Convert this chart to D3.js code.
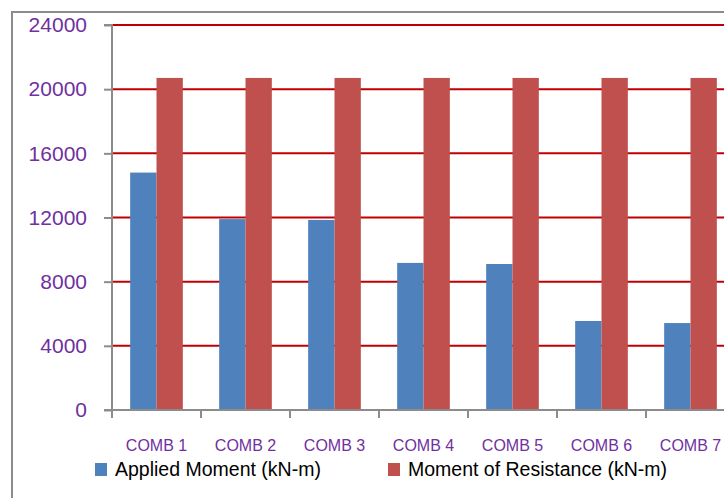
<!DOCTYPE html>
<html>
<head>
<meta charset="utf-8">
<script src="https://cdnjs.cloudflare.com/ajax/libs/d3/7.8.5/d3.min.js"></script>
<style>
  body { margin: 0; background: #fff; }
  svg { display: block; font-family: "Liberation Sans", Arial, sans-serif; }
</style>
</head>
<body>
<div id="chart"></div>
<script>
// data
var combos = ["COMB 1", "COMB 2", "COMB 3", "COMB 4", "COMB 5", "COMB 6", "COMB 7"];
var applied = [14800, 11900, 11850, 9170, 9100, 5550, 5420];
var resistance = [20700, 20700, 20700, 20700, 20700, 20700, 20700];
var seriesNames = ["Applied Moment (kN-m)", "Moment of Resistance (kN-m)"];
var seriesColors = ["#4f81bd", "#c0504d"];
var yTicks = [0, 4000, 8000, 12000, 16000, 20000, 24000];

var W = 724, H = 498;
var svg = d3.select("#chart").append("svg").attr("width", W).attr("height", H);

// outer chart border (cut off on right/bottom)
svg.append("path")
  .attr("d", "M12,498 V12 H724")
  .attr("fill", "none")
  .attr("stroke", "#8c8c8c")
  .attr("stroke-width", 2);

var plotLeft = 112, plotTop = 25, plotBottom = 410;
var x0 = d3.scaleBand().domain(combos).range([plotLeft, plotLeft + 89 * combos.length]);
var x1 = d3.scaleBand().domain(seriesNames).range([0, x0.bandwidth()]).paddingInner(0).paddingOuter(0.69);
var y = d3.scaleLinear().domain([0, 24000]).range([plotBottom, plotTop]);

// red gridlines
svg.append("g").selectAll("line")
  .data(yTicks.filter(function (d) { return d > 0; }))
  .enter().append("line")
  .attr("x1", plotLeft).attr("x2", W)
  .attr("y1", function (d) { return y(d); })
  .attr("y2", function (d) { return y(d); })
  .attr("stroke", "#c00000")
  .attr("stroke-width", 2);

// bars
var rows = combos.map(function (c, i) { return { c: c, v: [applied[i], resistance[i]] }; });
var grp = svg.append("g").selectAll("g").data(rows).enter().append("g")
  .attr("transform", function (d) { return "translate(" + x0(d.c) + ",0)"; });
grp.selectAll("rect")
  .data(function (d) { return d.v.map(function (v, k) { return { s: seriesNames[k], v: v, k: k }; }); })
  .enter().append("rect")
  .attr("x", function (d) { return x1(d.s); })
  .attr("width", x1.bandwidth())
  .attr("y", function (d) { return y(d.v); })
  .attr("height", function (d) { return plotBottom - y(d.v); })
  .attr("fill", function (d) { return seriesColors[d.k]; });

// y axis
var yAxis = svg.append("g").attr("transform", "translate(" + plotLeft + ",0)")
  .call(d3.axisLeft(y).tickValues(yTicks).tickSize(8).tickPadding(17).tickFormat(d3.format("d")));
yAxis.select(".domain").attr("stroke", "#8c8c8c").attr("stroke-width", 2).attr("d", "M-8," + plotTop + "H0V" + plotBottom + "H-8");
yAxis.selectAll(".tick line").attr("stroke", "#8c8c8c").attr("stroke-width", 2);
yAxis.selectAll(".tick text").attr("fill", "#7030a0").style("font-size", "21px").style("font-family", "Liberation Sans, Arial, sans-serif");

// x axis line and ticks at category boundaries
svg.append("line")
  .attr("x1", plotLeft).attr("x2", W).attr("y1", plotBottom).attr("y2", plotBottom)
  .attr("stroke", "#8c8c8c").attr("stroke-width", 2);
svg.append("g").selectAll("line")
  .data(combos)
  .enter().append("line")
  .attr("x1", function (d) { return x0(d); }).attr("x2", function (d) { return x0(d); })
  .attr("y1", plotBottom).attr("y2", plotBottom + 8)
  .attr("stroke", "#8c8c8c").attr("stroke-width", 2);

// category labels
svg.append("g").selectAll("text")
  .data(combos)
  .enter().append("text")
  .attr("x", function (d) { return x0(d) + x0.bandwidth() / 2; })
  .attr("y", 451)
  .attr("text-anchor", "middle")
  .attr("fill", "#7030a0")
  .style("font-size", "16px")
  .text(function (d) { return d; });

// legend
var legX = [95, 388];
var leg = svg.append("g").selectAll("g").data(seriesNames).enter().append("g")
  .attr("transform", function (d, i) { return "translate(" + legX[i] + ",463)"; });
leg.append("rect").attr("width", 12).attr("height", 13)
  .attr("fill", function (d, i) { return seriesColors[i]; });
leg.append("text").attr("x", 20).attr("y", 13)
  .style("font-size", "19.5px").attr("fill", "#000")
  .text(function (d) { return d; });
</script>
</body>
</html>
